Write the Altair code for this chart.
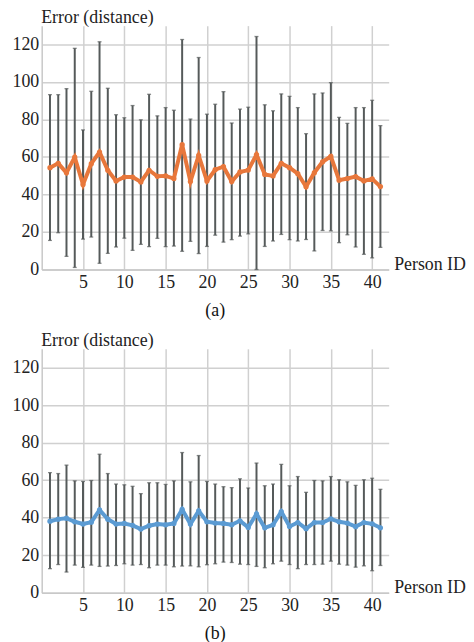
import altair as alt
import pandas as pd

person_ids = list(range(1, 42))

a_mean = [54.3, 56.6, 51.6, 59.9, 45.3, 56.4, 62.6, 52.9, 47.2, 49.3,
          49.3, 46.7, 52.9, 49.7, 49.9, 48.5, 66.6, 46.9, 60.8, 47.2,
          53.2, 54.8, 46.9, 52.0, 53.0, 61.3, 50.7, 49.9, 56.6, 54.3,
          51.1, 44.1, 51.6, 57.4, 60.3, 47.6, 48.5, 49.5, 47.2, 48.3, 44.2]
a_high = [93.2, 93.2, 96.4, 117.9, 74.4, 95.0, 121.4, 96.6, 82.5, 80.9,
          87.4, 79.8, 93.4, 81.9, 86.3, 84.9, 122.6, 80.2, 113.0, 82.8,
          88.1, 94.8, 78.1, 85.5, 86.5, 124.2, 87.8, 84.6, 93.6, 92.3,
          86.3, 72.4, 93.6, 94.1, 99.6, 81.1, 77.9, 86.3, 86.3, 90.2, 76.7]
a_low = [15.5, 19.6, 7.0, 1.1, 16.2, 17.3, 3.3, 8.6, 12.0, 16.7,
         10.2, 13.4, 12.2, 16.6, 12.2, 12.5, 9.7, 15.0, 8.5, 12.3,
         18.3, 14.6, 15.9, 17.8, 19.0, 0.0, 12.3, 15.2, 18.7, 15.9,
         15.2, 16.0, 9.9, 20.8, 20.6, 14.3, 18.5, 12.0, 8.1, 6.2, 11.8]

b_mean = [38.1, 39.2, 39.7, 37.8, 36.6, 37.6, 44.1, 39.2, 36.6, 36.9,
          35.9, 33.9, 35.7, 36.6, 36.2, 36.9, 44.4, 36.6, 43.6, 37.8,
          37.1, 36.9, 36.2, 38.3, 34.8, 42.0, 34.6, 36.2, 43.2, 35.3,
          37.4, 34.1, 37.4, 37.4, 39.4, 37.8, 37.1, 35.2, 37.4, 36.7, 34.6]
b_high = [64.0, 63.5, 68.0, 59.6, 59.3, 59.8, 73.8, 63.5, 57.9, 57.5,
          56.7, 52.8, 58.6, 58.6, 57.7, 59.6, 74.7, 59.1, 73.1, 59.3,
          57.9, 56.5, 56.0, 60.7, 55.8, 69.1, 57.0, 57.9, 68.4, 57.0,
          61.9, 53.5, 59.8, 59.6, 61.9, 60.2, 59.1, 57.2, 60.2, 61.0, 55.1]
b_low = [12.8, 15.0, 11.0, 14.7, 13.5, 14.7, 14.0, 14.2, 14.5, 15.4,
         14.7, 15.0, 13.3, 14.7, 14.7, 13.8, 14.2, 14.3, 13.8, 14.9,
         15.4, 16.3, 16.1, 15.2, 15.0, 14.0, 13.3, 15.4, 16.8, 15.0,
         12.8, 15.0, 15.0, 15.2, 16.8, 15.2, 14.7, 13.6, 14.3, 11.7, 14.5]

x_ticks = [5, 10, 15, 20, 25, 30, 35, 40]
y_ticks = [0, 20, 40, 60, 80, 100, 120]

FONT = "Liberation Serif"
FS = 18
W, H = 350, 246


def panel(mean, high, low, color, caption):
    df = pd.DataFrame({"id": person_ids, "mean": mean, "high": high, "low": low})
    x = alt.X("id:Q", scale=alt.Scale(domain=[0, 42], nice=False),
              axis=alt.Axis(values=x_ticks, title="Person ID", titleAngle=0,
                            titleAlign="left", titleBaseline="middle",
                            titleX=W + 5, titleY=-5, ticks=False,
                            labelPadding=4, labelFont=FONT, titleFont=FONT,
                            labelFontSize=FS, titleFontSize=FS))
    y = alt.Y("high:Q", scale=alt.Scale(domain=[0, 130], nice=False),
              axis=alt.Axis(values=y_ticks, title="Error (distance)", titleAngle=0,
                            titleAlign="left", titleBaseline="alphabetic",
                            titleX=-1, titleY=-3, ticks=False, labelPadding=3,
                            labelFont=FONT, titleFont=FONT,
                            labelFontSize=FS, titleFontSize=FS))
    base = alt.Chart(df)
    rules = base.mark_rule(color="#555a5a", strokeWidth=2).encode(
        x=x, y=y, y2="low:Q")
    cap_hi = base.mark_tick(color="#555a5a", size=4, thickness=1.3,
                            orient="horizontal").encode(x="id:Q", y="high:Q")
    cap_lo = base.mark_tick(color="#555a5a", size=4, thickness=1.3,
                            orient="horizontal").encode(x="id:Q", y="low:Q")
    line = base.mark_line(color=color, strokeWidth=4,
                          point=alt.OverlayMarkDef(color=color, size=28, filled=True)
                          ).encode(x="id:Q", y="mean:Q")
    return alt.layer(rules, cap_hi, cap_lo, line).properties(
        width=W, height=H,
        title=alt.TitleParams(caption, orient="bottom", anchor="middle",
                              frame="group", font=FONT, fontSize=FS,
                              fontWeight="normal", color="#111", offset=11))


chart = alt.vconcat(
    panel(a_mean, a_high, a_low, "#e8773b", "(a)"),
    panel(b_mean, b_high, b_low, "#5b9bd3", "(b)"),
    spacing=12,
).configure_axis(
    labelFont=FONT, titleFont=FONT, labelFontSize=FS, titleFontSize=FS,
    labelColor="#222", titleColor="#222", titleFontWeight="normal",
    gridColor="#d0d0d0", gridWidth=1.5, domainColor="#c8c8c8", domainWidth=1.5,
).configure_view(stroke=None).properties(
    padding={"left": 4, "top": -2, "right": 0, "bottom": 0})

chart.save("out.html", embed_options={"renderer": "svg", "actions": False})
